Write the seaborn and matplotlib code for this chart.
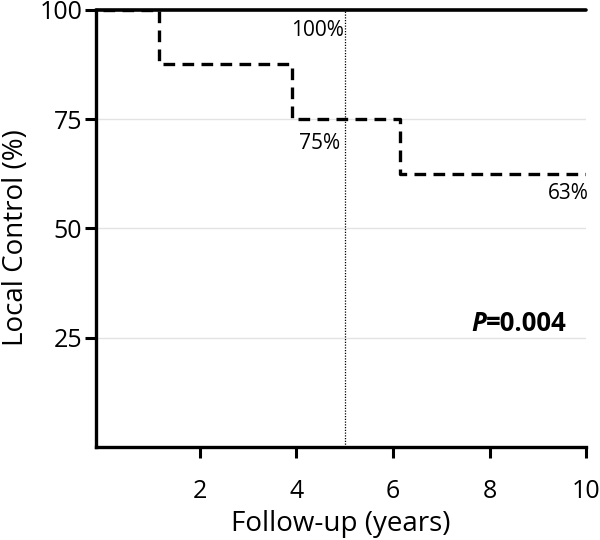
import numpy as np
import pandas as pd
import seaborn as sns
import matplotlib
matplotlib.use("Agg")
import matplotlib.pyplot as plt

# data
years = [0, 1.15, 3.9, 6.15, 10]
local_control = [100, 87.5, 75, 62.5, 62.5]
ref_years = [-0.15, 10]
ref_control = [100, 100]
landmark_year = 5
x_ticks = [2, 4, 6, 8, 10]
y_ticks = [25, 50, 75, 100]
p_value = "=0.004"

sns.set_style("white")
plt.rcParams['font.family'] = ['Open Sans', 'DejaVu Sans']
plt.rcParams['text.color'] = 'black'
plt.rcParams['axes.labelcolor'] = 'black'
plt.rcParams['xtick.color'] = 'black'
plt.rcParams['ytick.color'] = 'black'

fig = plt.figure(figsize=(6, 5.4), dpi=100)
ax = fig.add_axes([0.16, 0.172, 0.817, 0.81])

# light grid
for yv in y_ticks[:-1]:
    ax.axhline(yv, color='#e3e3e3', lw=1.0, zorder=0)

df = pd.DataFrame({'years': years, 'control': local_control})
ref = pd.DataFrame({'years': ref_years, 'control': ref_control})

sns.lineplot(data=ref, x='years', y='control', ax=ax, color='black',
             lw=2.6, drawstyle='steps-post', clip_on=False, zorder=3)
sns.lineplot(data=df, x='years', y='control', ax=ax, color='black',
             lw=2.4, linestyle=(0, (3.5, 2.2)), drawstyle='steps-post', zorder=3)

ax.axvline(landmark_year, color='black', lw=0.9, ls=(0, (1, 1.2)), zorder=2)

# annotations
ax.text(landmark_year - 0.02, 95.3, "100%", ha='right', va='center', fontsize=15)
ax.text(landmark_year - 0.1, 69.4, "75%", ha='right', va='center', fontsize=15)
ax.text(10.05, 57.9, "63%", ha='right', va='center', fontsize=15)
ptxt = ax.text(7.62, 28.2, "P", ha='left', va='center', fontsize=18.5,
               fontweight='bold', style='italic')
ax.annotate(p_value, xy=(1, 0), xycoords=ptxt, ha='left', va='bottom',
            fontsize=18.5, fontweight='bold')

ax.set_xlim(-0.15, 10)
ax.set_ylim(0, 100)
ax.set_xticks(x_ticks)
ax.set_yticks(y_ticks)
ax.set_xlabel("Follow-up (years)", fontsize=20, labelpad=4)
ax.set_ylabel("Local Control (%)", fontsize=20)
ax.yaxis.set_label_coords(-0.135, 0.48)

for s in ['top', 'right']:
    ax.spines[s].set_visible(False)
for s in ['left', 'bottom']:
    ax.spines[s].set_linewidth(2.4)
    ax.spines[s].set_color('black')
ax.tick_params(axis='both', direction='out', length=8, width=2.2, labelsize=18,
               bottom=True, left=True, pad=2)
ax.tick_params(axis='x', pad=15)

fig.savefig("out.png", dpi=100)
